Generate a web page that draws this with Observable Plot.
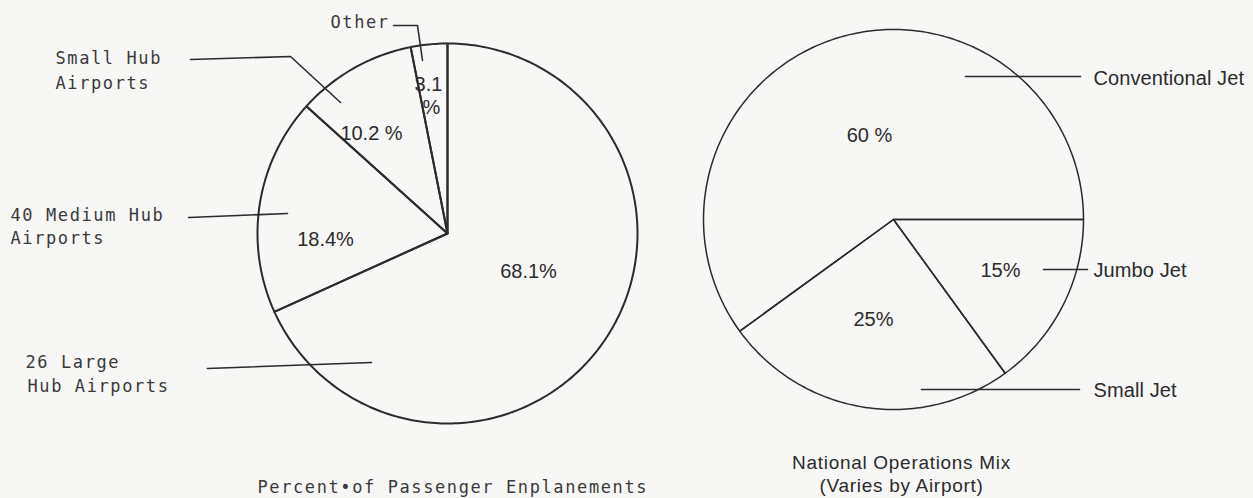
<!DOCTYPE html>
<html><head><meta charset="utf-8">
<script src="https://cdn.jsdelivr.net/npm/d3@7"></script>
<script src="https://cdn.jsdelivr.net/npm/@observablehq/plot@0.6"></script>
<style>
html,body{margin:0;padding:0;background:#f7f7f6;}
#chart svg{display:block;background:#f7f7f6;}
g[font-family*="DejaVu Sans Mono"] text{letter-spacing:1.6px;}
g[font-size="20"][text-anchor="start"] text{letter-spacing:0.1px;}
g[font-size="19"] text{letter-spacing:0.7px;}
</style></head><body><div id="chart"></div>
<script>
// ---------- data ----------
const enplanementCategories = ["26 Large Hub Airports", "40 Medium Hub Airports", "Small Hub Airports", "Other"];
const enplanementShares = [68.1, 18.4, 10.2, 3.1];
const enplanementValueLabels = [["68.1%"], ["18.4%"], ["10.2 %"], ["3.1", "%"]];
const enplanementCategoryLabels = [["26 Large", "Hub Airports"], ["40 Medium Hub", "Airports"], ["Small Hub", "Airports"], ["Other"]];
const enplanementTitle = "Percent\u2022of Passenger Enplanements";

const operationsCategories = ["Conventional Jet", "Small Jet", "Jumbo Jet"];
const operationsShares = [60, 25, 15];
const operationsValueLabels = ["60 %", "25%", "15%"];
const operationsTitle = ["National Operations Mix", "(Varies by Airport)"];

// ---------- layout (annotation placement, not data) ----------
const pies = {
  left: {cx: 447, cy: 233, r: 190, start: 0, dir: 1, sw: 2},
  right: {cx: 893, cy: 219, r: 190, start: 90, dir: -1, sw: 1.5}
};
const leftValuePos = [[[528, 277]], [[325, 245]], [[371, 139]], [[428, 90], [431, 113]]];
const leftCatPos = [[[25, 367], [27, 391]], [[10, 220], [10, 243]], [[55, 63], [55, 88]], [[330, 27]]];
const leftLeaders = [[[207, 368], [371, 362]], [[188, 217], [287, 213]], [[190, 59], [290, 56], [340, 102]], [[393, 25], [417, 25], [422, 60]]];
const leftTitlePos = [257, 492];
const rightValuePos = [[869, 141], [873, 325], [1000, 276]];
const rightCatPos = [[1093, 84], [1093, 396], [1093, 276]];
const rightLeaders = [[[965, 76], [1080, 76]], [[921, 389], [1079, 389]], [[1043, 269], [1087, 269]]];
const rightTitlePos = [[901, 468], [901, 491]];

// ---------- geometry from data ----------
function sliceOutlines(values, categories, g, pie) {
  const total = d3.sum(values);
  const pts = [];
  let acc = 0;
  values.forEach((v, i) => {
    const a0 = g.start + g.dir * acc / total * 360;
    acc += v;
    const a1 = g.start + g.dir * acc / total * 360;
    const steps = Math.max(2, Math.ceil(Math.abs(a1 - a0)));
    const key = pie + ":" + categories[i];
    pts.push({key, x: g.cx, y: g.cy});
    for (let s = 0; s <= steps; s++) {
      const a = (a0 + (a1 - a0) * s / steps) * Math.PI / 180;
      pts.push({key, x: g.cx + g.r * Math.sin(a), y: g.cy - g.r * Math.cos(a)});
    }
    pts.push({key, x: g.cx, y: g.cy});
  });
  return pts;
}
const leftSlices = sliceOutlines(enplanementShares, enplanementCategories, pies.left, "L");
const rightSlices = sliceOutlines(operationsShares, operationsCategories, pies.right, "R");

const leaderPts = [];
leftLeaders.forEach((l, i) => l.forEach(([x, y]) => leaderPts.push({key: "L" + enplanementCategories[i], x, y})));
rightLeaders.forEach((l, i) => l.forEach(([x, y]) => leaderPts.push({key: "R" + operationsCategories[i], x, y})));

const monoText = [];
enplanementCategoryLabels.forEach((lines, i) => lines.forEach((t, j) => monoText.push({text: t, x: leftCatPos[i][j][0], y: leftCatPos[i][j][1]})));
monoText.push({text: enplanementTitle, x: leftTitlePos[0], y: leftTitlePos[1]});

const valueText = [];
enplanementValueLabels.forEach((lines, i) => lines.forEach((t, j) => valueText.push({text: t, x: leftValuePos[i][j][0], y: leftValuePos[i][j][1]})));
operationsValueLabels.forEach((t, i) => valueText.push({text: t, x: rightValuePos[i][0], y: rightValuePos[i][1]}));

const rightCatText = operationsCategories.map((t, i) => ({text: t, x: rightCatPos[i][0], y: rightCatPos[i][1]}));
const titleText = operationsTitle.map((t, i) => ({text: t, x: rightTitlePos[i][0], y: rightTitlePos[i][1]}));

const ink = "#2b2b2b";
const sans = "'Liberation Sans', Arial, sans-serif";
const chart = Plot.plot({
  width: 1253, height: 498, margin: 0,
  x: {type: "identity", axis: null},
  y: {type: "identity", axis: null},
  style: {background: "#f7f7f6"},
  marks: [
    Plot.line(leftSlices, {x: "x", y: "y", z: "key", stroke: ink, strokeWidth: pies.left.sw, strokeLinejoin: "round"}),
    Plot.line(rightSlices, {x: "x", y: "y", z: "key", stroke: ink, strokeWidth: pies.right.sw, strokeLinejoin: "round"}),
    Plot.line(leaderPts, {x: "x", y: "y", z: "key", stroke: ink, strokeWidth: 1.6}),
    Plot.text(monoText, {x: "x", y: "y", text: "text", textAnchor: "start", lineAnchor: "bottom", fontFamily: "'DejaVu Sans Mono', monospace", fontSize: 17, fill: "#3a3a3a"}),
    Plot.text(valueText, {x: "x", y: "y", text: "text", textAnchor: "middle", lineAnchor: "bottom", fontFamily: sans, fontSize: 20, fill: ink}),
    Plot.text(rightCatText, {x: "x", y: "y", text: "text", textAnchor: "start", lineAnchor: "bottom", fontFamily: sans, fontSize: 20, fill: ink}),
    Plot.text(titleText, {x: "x", y: "y", text: "text", textAnchor: "middle", lineAnchor: "bottom", fontFamily: sans, fontSize: 19, fill: ink})
  ]
});
document.getElementById("chart").appendChild(chart);
</script></body></html>
